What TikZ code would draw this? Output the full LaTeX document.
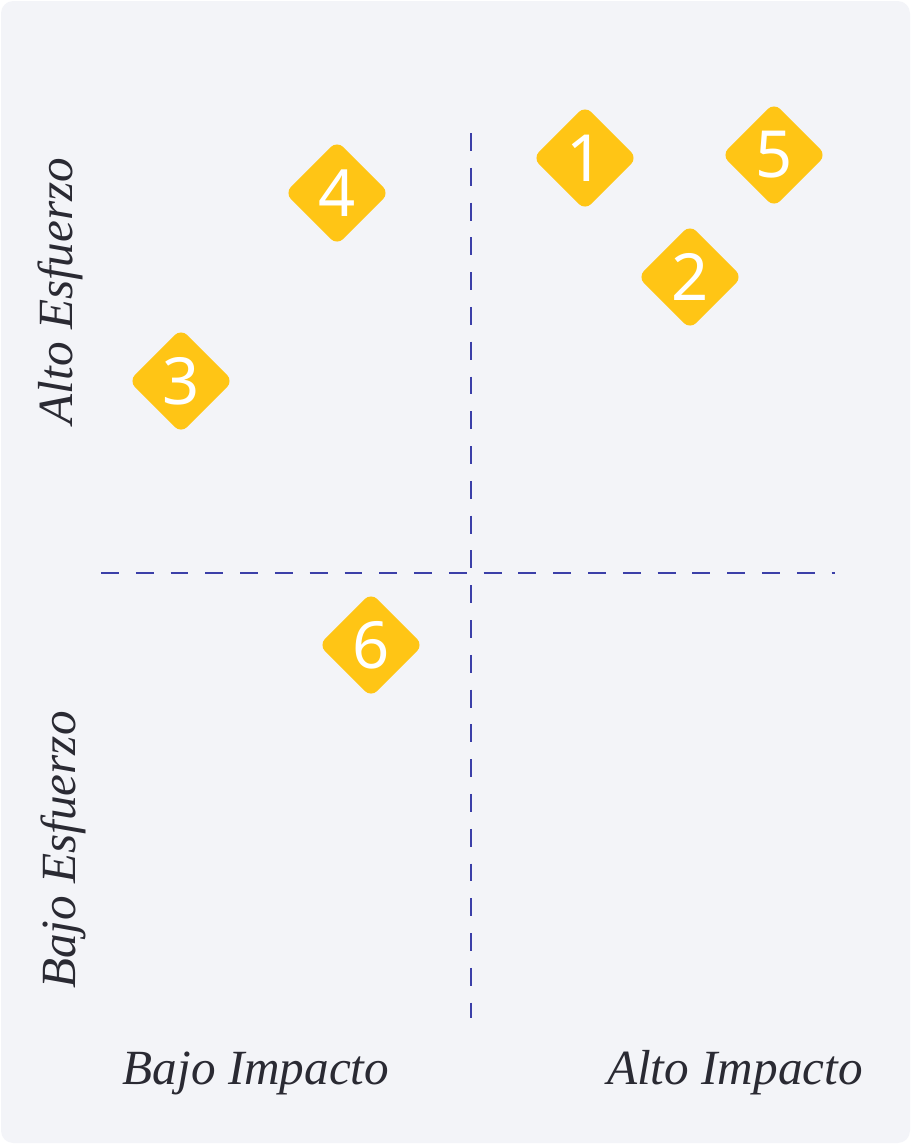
\documentclass[tikz,border=0pt]{standalone}
\usepackage{fontspec}
\setmainfont{Liberation Serif}
\newfontfamily\digitfont{Noto Sans}
\usepackage{xcolor}
\usetikzlibrary{positioning}

\definecolor{panelbg}{HTML}{F3F4F8}
\definecolor{gridline}{HTML}{3B3FA8}
\definecolor{badgefill}{HTML}{FFC515}
\definecolor{labeltext}{HTML}{2A2A33}

\begin{document}
\begin{tikzpicture}[
    x=0.02cm, y=-0.02cm,
    badge/.style={fill=badgefill, rectangle, rounded corners=5pt, minimum size=42pt, inner sep=0pt, rotate=45},
    num/.style={text=white, font=\digitfont\fontsize{37}{37}\selectfont, inner sep=0pt},
    axis/.style={text=labeltext, font=\itshape\fontsize{28}{30}\selectfont},
    grid/.style={gridline, line width=0.85pt, dash pattern=on 10.2pt off 9.6pt}
]

% page and panel
\fill[white] (0,0) rectangle (911,1144);
\fill[panelbg, rounded corners=7pt] (1,1) rectangle (910,1143);

% quadrant lines
\coordinate (vtop) at (471,133);
\coordinate (vbot) at (471,1018);
\coordinate (hleft) at (101,573);
\coordinate (hright) at (835,573);
\draw[grid] (vtop) -- (vbot);
\draw[grid] (hleft) -- (hright);

% items
\node[badge] (b1) at (585,158) {};
\node[num] (n1) at (b1) {1};
\node[badge] (b5) at (774,155) {};
\node[num] (n5) at (b5) {5};
\node[badge] (b2) at (690,277) {};
\node[num] (n2) at (b2) {2};
\node[badge] (b4) at (337,193) {};
\node[num] (n4) at (b4) {4};
\node[badge] (b3) at (181,381) {};
\node[num] (n3) at (b3) {3};
\node[badge] (b6) at (371,645) {};
\node[num] (n6) at (b6) {6};

% axis labels
\node[axis] (lowimp) at (256,1073) {Bajo Impacto};
\node[axis] (highimp) at (735,1073) {Alto Impacto};
\node[axis, rotate=90] (higheff) at (60,291) {Alto Esfuerzo};
\node[axis, rotate=90] (loweff) at (63,850) {Bajo Esfuerzo};

\end{tikzpicture}
\end{document}
